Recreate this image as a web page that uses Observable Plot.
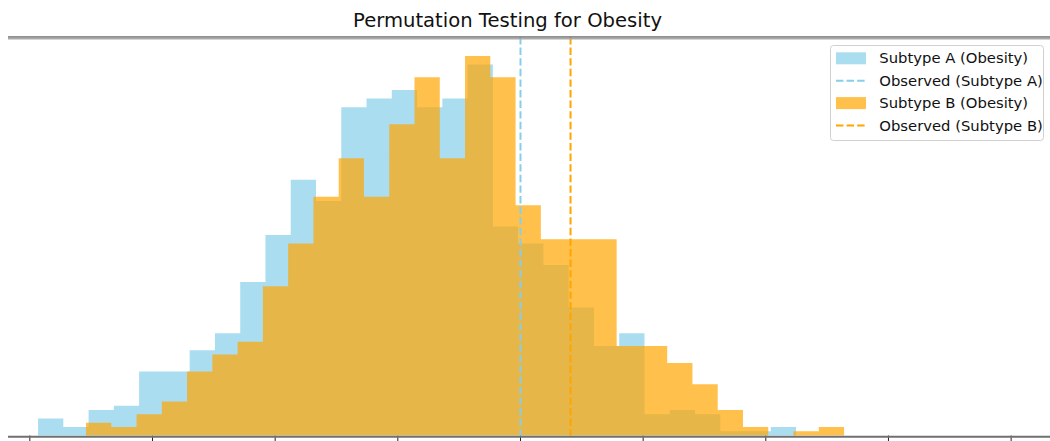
<!DOCTYPE html>
<html>
<head>
<meta charset="utf-8">
<script src="https://cdn.jsdelivr.net/npm/d3@7"></script>
<script src="https://cdn.jsdelivr.net/npm/@observablehq/plot@0.6"></script>
<style>
  html, body { margin: 0; padding: 0; background: #fff; }
  #chart { width: 1050px; height: 441px; }
</style>
</head>
<body>
<div id="chart"></div>
<script>
// ---- data ----
const chartTitle = "Permutation Testing for Obesity";
const legendLabels = ["Subtype A (Obesity)", "Observed (Subtype A)", "Subtype B (Obesity)", "Observed (Subtype B)"];
const countsA = [4, 2, 6, 7, 15, 15, 20, 24, 36, 47, 60, 55, 77, 79, 81, 77, 79, 87, 49, 45, 40, 30, 21, 24, 5, 6, 5, 1, 1, 2];
const countsB = [3, 2, 5, 8, 15, 19, 22, 35, 45, 56, 65, 56, 73, 84, 65, 89, 84, 54, 46, 46, 46, 21, 21, 17, 12, 6, 2, 0, 1, 2];
const binStartA = -3.929;
const binStartB = -3.538;
const binWidth = 0.206;
const observedA = 0.0;
const observedB = 0.408;
const xTicks = [-4, -3, -2, -1, 0, 1, 2, 3, 4];

// ---- styles ----
const colorA = "#87CEEB";
const colorB = "#FFA500";
const dash = "7.4,3.2";

// step outline of each histogram (one path per series, no seams between bins)
function steps(counts, start) {
  const pts = counts.map((c, i) => ({x: start + i * binWidth, count: c}));
  pts.push({x: start + counts.length * binWidth, count: counts[counts.length - 1]});
  return pts;
}
const stepsA = steps(countsA, binStartA);
const stepsB = steps(countsB, binStartB);
const yMax = Math.max(...countsA, ...countsB) * 1.05;

const plot = Plot.plot({
  width: 1050,
  height: 441,
  marginTop: 37,
  marginBottom: 5.5,
  marginLeft: 8,
  marginRight: 0,
  style: {background: "#fff", fontFamily: "DejaVu Sans", color: "#222"},
  x: {domain: [-4.174, 4.321], ticks: xTicks, tickFormat: () => "", tickSize: 6, label: null},
  y: {domain: [0, yMax], axis: null},
  marks: [
    Plot.areaY(stepsA, {x: "x", y: "count", curve: "step-after", fill: colorA, fillOpacity: 0.7}),
    Plot.areaY(stepsB, {x: "x", y: "count", curve: "step-after", fill: colorB, fillOpacity: 0.7}),
    Plot.ruleX([observedA], {x: d => d, stroke: colorA, strokeWidth: 2, strokeDasharray: dash}),
    Plot.ruleX([observedB], {x: d => d, stroke: colorB, strokeWidth: 2, strokeDasharray: dash}),
    Plot.ruleY([0], {y: d => d, stroke: "#707070", strokeWidth: 2, dy: 0.7}),
    Plot.ruleY([yMax], {y: d => d, stroke: "#222", strokeWidth: 1, dy: -0.5}),
    Plot.ruleY([yMax], {y: d => d, stroke: "#aaa", strokeWidth: 2, dy: 1})
  ]
});

document.getElementById("chart").appendChild(plot);

// ---- title and legend (decoration) ----
const svg = d3.select(plot);
svg.append("text")
  .attr("x", 507.5).attr("y", 26.7)
  .attr("text-anchor", "middle")
  .attr("font-family", "DejaVu Sans")
  .attr("font-size", 19.6)
  .attr("fill", "#111")
  .text(chartTitle);

const lg = svg.append("g").attr("text-anchor", "start");
lg.append("rect")
  .attr("x", 830.5).attr("y", 45.5).attr("width", 213).attr("height", 95).attr("rx", 3)
  .attr("fill", "#fff").attr("fill-opacity", 0.8)
  .attr("stroke", "#d0d0d0").attr("stroke-width", 1);
const rowY = [58.3, 80.7, 103.1, 125.5];
const kinds = [["patch", colorA], ["line", colorA], ["patch", colorB], ["line", colorB]];
legendLabels.forEach((label, i) => {
  const [kind, col] = kinds[i];
  if (kind === "patch") {
    lg.append("rect").attr("x", 836).attr("y", rowY[i] - 6).attr("width", 30).attr("height", 12)
      .attr("fill", col).attr("fill-opacity", 0.7);
  } else {
    lg.append("line").attr("x1", 836).attr("x2", 866).attr("y1", rowY[i]).attr("y2", rowY[i])
      .attr("stroke", col).attr("stroke-width", 2).attr("stroke-dasharray", dash);
  }
  lg.append("text").attr("x", 879.3).attr("y", rowY[i] + 5)
    .attr("text-anchor", "start")
    .attr("font-family", "DejaVu Sans").attr("font-size", 14.8).attr("fill", "#111")
    .text(label);
});
</script>
</body>
</html>
